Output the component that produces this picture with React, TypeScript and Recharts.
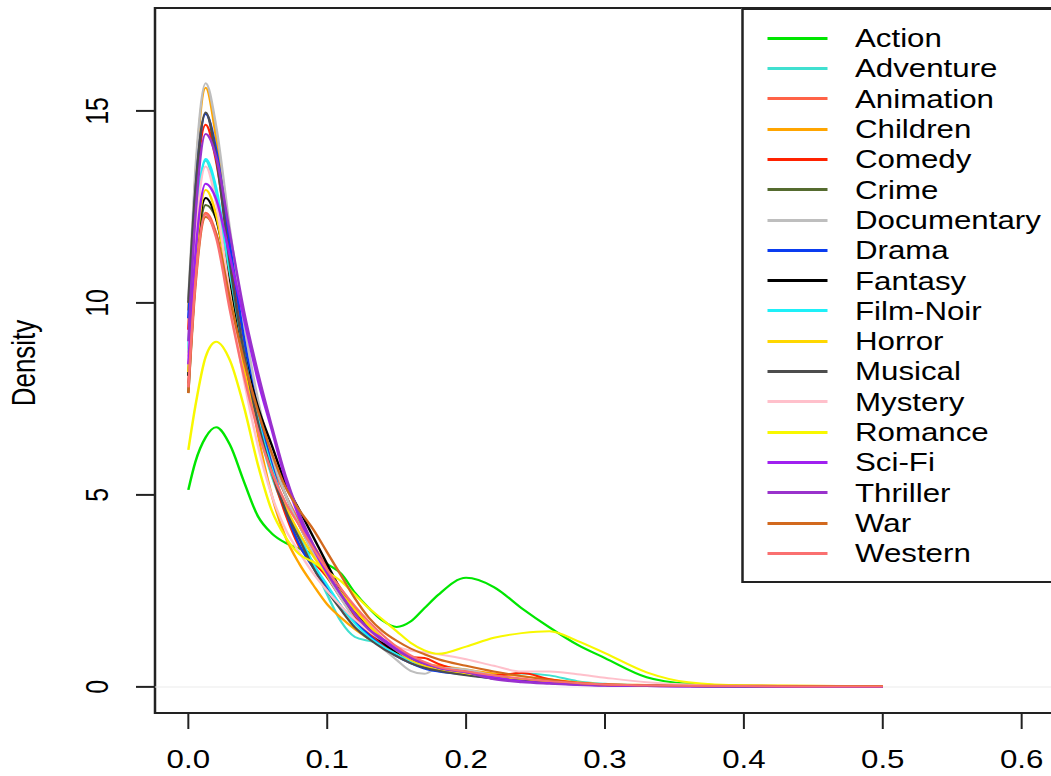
import React from 'react';
import { LineChart, Line, XAxis, YAxis, ReferenceArea, ReferenceLine, Legend } from 'recharts';

const xs = [0, 0.005, 0.0125, 0.02, 0.03, 0.04, 0.05, 0.06, 0.07, 0.08, 0.09, 0.1, 0.11, 0.12, 0.13, 0.14, 0.15, 0.16, 0.17, 0.18, 0.2, 0.22, 0.24, 0.26, 0.28, 0.3, 0.33, 0.36, 0.4, 0.45, 0.5];

const action = [5.13, 5.85, 6.5, 6.76, 6.3, 5.35, 4.45, 4.0, 3.75, 3.6, 3.45, 3.2, 2.95, 2.45, 2.05, 1.72, 1.56, 1.7, 2.05, 2.4, 2.84, 2.6, 2.05, 1.55, 1.1, 0.75, 0.25, 0.08, 0.03, 0.01, 0.005];
const adventure = [8.7, 11.7, 13.7, 12.8, 10.5, 8.4, 6.8, 5.5, 4.6, 3.9, 3.2, 2.4, 1.7, 1.3, 1.2, 1.12, 0.95, 0.75, 0.6, 0.5, 0.4, 0.3, 0.35, 0.3, 0.15, 0.08, 0.04, 0.02, 0.01, 0.01, 0.0];
const animation = [7.9, 10.6, 12.35, 11.8, 10.0, 8.3, 6.9, 5.8, 5.0, 4.3, 3.7, 3.1, 2.55, 2.05, 1.6, 1.25, 0.95, 0.75, 0.6, 0.5, 0.4, 0.3, 0.2, 0.14, 0.09, 0.06, 0.04, 0.03, 0.02, 0.01, 0.01];
const children = [9.8, 13.2, 15.6, 14.3, 11.4, 8.8, 6.6, 5.0, 3.9, 3.2, 2.65, 2.15, 1.8, 1.5, 1.25, 1.05, 0.85, 0.7, 0.6, 0.55, 0.45, 0.35, 0.28, 0.2, 0.12, 0.07, 0.05, 0.04, 0.03, 0.02, 0.02];
const comedy = [9.3, 12.6, 14.64, 13.7, 11.2, 8.9, 7.0, 5.6, 4.5, 3.65, 3.25, 2.85, 2.3, 1.8, 1.4, 1.1, 0.85, 0.78, 0.75, 0.6, 0.4, 0.3, 0.36, 0.2, 0.1, 0.06, 0.04, 0.02, 0.01, 0.01, 0.0];
const crime = [7.66, 10.6, 12.55, 12.2, 10.5, 8.7, 7.2, 6.0, 5.0, 4.2, 3.5, 2.9, 2.35, 1.9, 1.5, 1.2, 0.95, 0.75, 0.6, 0.48, 0.35, 0.25, 0.18, 0.12, 0.08, 0.05, 0.03, 0.02, 0.01, 0.01, 0.0];
const documentary = [10.1, 13.4, 15.72, 14.6, 11.9, 9.5, 7.5, 6.0, 5.0, 4.2, 3.5, 2.9, 2.3, 1.75, 1.3, 1.0, 0.7, 0.42, 0.34, 0.5, 0.45, 0.3, 0.2, 0.12, 0.08, 0.05, 0.03, 0.02, 0.01, 0.005, 0.0];
const drama = [9.6, 12.8, 14.92, 14.0, 11.5, 9.1, 7.2, 5.8, 4.6, 3.7, 3.1, 2.6, 2.1, 1.7, 1.35, 1.05, 0.8, 0.62, 0.48, 0.4, 0.32, 0.22, 0.15, 0.1, 0.06, 0.04, 0.03, 0.02, 0.01, 0.01, 0.0];
const fantasy = [8.1, 10.9, 12.73, 12.2, 10.4, 8.7, 7.3, 6.3, 5.3, 4.6, 3.9, 3.2, 2.5, 1.95, 1.5, 1.15, 0.9, 0.7, 0.55, 0.45, 0.32, 0.25, 0.18, 0.12, 0.08, 0.05, 0.03, 0.02, 0.01, 0.01, 0.0];
const filmNoir = [8.8, 11.8, 13.75, 13.0, 10.8, 8.7, 7.0, 5.7, 4.7, 3.9, 3.2, 2.65, 2.1, 1.65, 1.3, 1.05, 0.85, 0.68, 0.55, 0.45, 0.35, 0.25, 0.18, 0.12, 0.07, 0.05, 0.03, 0.02, 0.01, 0.01, 0.0];
const horror = [8.2, 11.0, 12.94, 12.3, 10.2, 8.3, 6.8, 5.6, 4.7, 4.0, 3.4, 2.9, 2.45, 2.0, 1.6, 1.25, 0.95, 0.7, 0.55, 0.45, 0.35, 0.25, 0.18, 0.12, 0.08, 0.05, 0.03, 0.02, 0.01, 0.01, 0.0];
const musical = [10.0, 12.9, 14.96, 13.8, 11.0, 8.7, 6.9, 5.6, 4.6, 3.85, 3.1, 2.5, 2.0, 1.55, 1.25, 1.0, 0.8, 0.62, 0.5, 0.42, 0.3, 0.22, 0.16, 0.1, 0.07, 0.05, 0.03, 0.02, 0.01, 0.01, 0.0];
const mystery = [8.6, 11.6, 13.55, 12.6, 10.2, 8.0, 6.3, 5.0, 4.1, 3.5, 2.95, 2.5, 2.1, 1.75, 1.45, 1.2, 1.05, 0.95, 0.9, 0.85, 0.72, 0.55, 0.4, 0.4, 0.33, 0.24, 0.12, 0.06, 0.04, 0.03, 0.02];
const romance = [6.17, 7.3, 8.6, 8.99, 8.5, 7.3, 5.8, 4.6, 3.9, 3.45, 3.25, 3.0, 2.75, 2.4, 2.05, 1.75, 1.45, 1.15, 0.95, 0.86, 1.05, 1.28, 1.4, 1.45, 1.2, 0.88, 0.38, 0.12, 0.04, 0.03, 0.01];
const sciFi = [8.4, 11.2, 13.1, 12.7, 11.2, 9.6, 8.0, 6.7, 5.4, 4.4, 3.6, 2.95, 2.4, 1.9, 1.5, 1.25, 1.0, 0.8, 0.62, 0.5, 0.38, 0.25, 0.15, 0.1, 0.06, 0.04, 0.02, 0.01, 0.01, 0.0, 0.0];
const thriller = [9.0, 12.2, 14.4, 13.8, 11.8, 9.8, 8.2, 6.8, 5.5, 4.5, 3.7, 3.0, 2.4, 1.9, 1.5, 1.2, 0.95, 0.75, 0.6, 0.5, 0.38, 0.2, 0.12, 0.08, 0.05, 0.03, 0.02, 0.01, 0.01, 0.0, 0.0];
const war = [7.65, 10.4, 12.24, 11.8, 10.1, 8.5, 7.2, 6.1, 5.2, 4.6, 4.1, 3.5, 2.9, 2.3, 1.8, 1.45, 1.2, 1.0, 0.85, 0.72, 0.55, 0.4, 0.28, 0.18, 0.1, 0.06, 0.04, 0.03, 0.03, 0.02, 0.02];
const western = [7.8, 10.5, 12.3, 11.7, 9.8, 8.1, 6.7, 5.6, 4.8, 4.2, 3.6, 3.05, 2.55, 2.1, 1.7, 1.35, 1.05, 0.82, 0.65, 0.52, 0.4, 0.3, 0.22, 0.15, 0.1, 0.06, 0.04, 0.03, 0.02, 0.01, 0.01];

const genres = ['Action', 'Adventure', 'Animation', 'Children', 'Comedy', 'Crime', 'Documentary', 'Drama', 'Fantasy', 'Film-Noir', 'Horror', 'Musical', 'Mystery', 'Romance', 'Sci-Fi', 'Thriller', 'War', 'Western'];
const genreValues = [action, adventure, animation, children, comedy, crime, documentary, drama, fantasy, filmNoir, horror, musical, mystery, romance, sciFi, thriller, war, western];
const genreColors = ['#00e600', '#40e0d0', '#ff6347', '#ffa500', '#ff2200', '#556b2f', '#bebebe', '#0a3cf0', '#000000', '#1ef0f8', '#ffd700', '#4d4d4d', '#ffc0cb', '#f8f800', '#a020f0', '#9932cc', '#d2691e', '#fa7070'];

const xTicks = [0, 0.1, 0.2, 0.3, 0.4, 0.5, 0.6];
const yTicks = [0, 5, 10, 15];

const rows = xs.map((x, i) => {
  const r: Record<string, number> = { x };
  genres.forEach((g, j) => { r[g] = genreValues[j][i]; });
  return r;
});

const FONT = '"Liberation Sans", Arial, Helvetica, sans-serif';

const XTick = (props: any) => (
  <text x={props.x} y={props.y + 30} textAnchor="middle" dominantBaseline="central" fontSize={25} fontFamily={FONT} fill="#000">
    {Number(props.payload.value).toFixed(1)}
  </text>
);

const YTick = (props: any) => {
  const cx = props.x - 31.2;
  return (
    <text x={cx} y={props.y} transform={`rotate(-90, ${cx}, ${props.y})`} textAnchor="middle" dominantBaseline="central" fontSize={25} fontFamily={FONT} fill="#000">
      {props.payload.value}
    </text>
  );
};

const renderLegend = () => (
  <div style={{ position: 'relative', width: 252, height: 575, border: '2px solid #222', boxSizing: 'border-box', background: '#fff', fontFamily: FONT }}>
    {genres.map((g, i) => (
      <div key={g} style={{ position: 'absolute', left: 0, top: 13.15 + 30.3 * i, height: 30.3, width: 248, display: 'flex', alignItems: 'center' }}>
        <div style={{ marginLeft: 19.6, width: 48, height: 3, background: genreColors[i] }} />
        <div style={{ position: 'absolute', left: 89.2, top: 0, height: 30.3, lineHeight: '30.3px', fontSize: 25, color: '#000', whiteSpace: 'nowrap' }}>{g}</div>
      </div>
    ))}
  </div>
);

export default function App() {
  return (
    <div style={{ position: 'absolute', left: 0, top: 0, width: 1051, height: 776, overflow: 'hidden', background: '#fff' }}>
      <div style={{ transform: 'scaleX(1.25)', transformOrigin: '0 0', width: 860, height: 776 }}>
        <LineChart width={860} height={776} data={rows} margin={{ top: 8, right: 16, bottom: 0, left: 0 }}>
          <XAxis
            type="number"
            dataKey="x"
            domain={[-0.024, 0.624]}
            allowDataOverflow
            ticks={xTicks}
            interval={0}
            height={63}
            tickSize={16}
            tickMargin={0}
            axisLine={false}
            tickLine={{ stroke: '#222', strokeWidth: 1.6 }}
            tick={<XTick />}
          />
          <YAxis
            type="number"
            domain={[-0.68, 17.68]}
            allowDataOverflow
            ticks={yTicks}
            interval={0}
            width={124}
            tickSize={15.2}
            tickMargin={0}
            axisLine={false}
            tickLine={{ stroke: '#222', strokeWidth: 2 }}
            tick={<YTick />}
            label={{
              content: () => (
                <text x={18.4} y={363} transform="rotate(-90, 18.4, 363)" textAnchor="middle" dominantBaseline="central" fontSize={26} fontFamily={FONT} fill="#000">
                  Density
                </text>
              ),
            }}
          />
          <ReferenceLine y={0} stroke="#ebebeb" strokeWidth={1} />
          {genres.map((g, i) => (
            <Line key={g} type="monotone" dataKey={g} stroke={genreColors[i]} strokeWidth={2} dot={false} activeDot={false} isAnimationActive={false} />
          ))}
          <ReferenceArea x1={-0.024} x2={0.624} y1={-0.68} y2={17.68} fill="none" stroke="#222" strokeWidth={2} ifOverflow="visible" />
          <Legend
            layout="vertical"
            align="center"
            verticalAlign="middle"
            content={renderLegend}
            wrapperStyle={{ position: 'absolute', left: 592.8, top: 8, width: 252, height: 575 }}
          />
        </LineChart>
      </div>
    </div>
  );
}
